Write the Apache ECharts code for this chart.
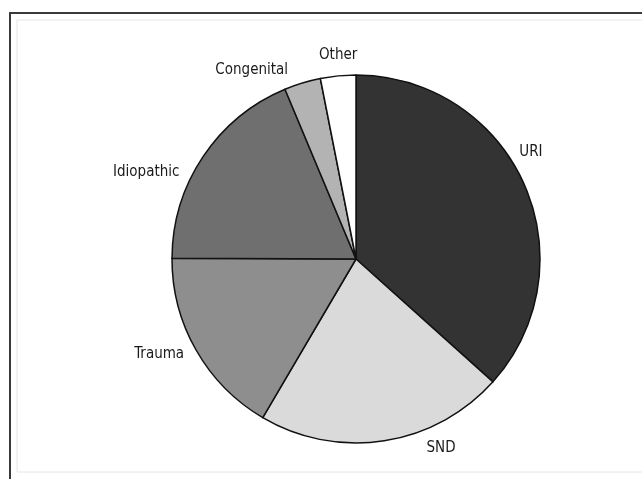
<!DOCTYPE html>
<html>
<head>
<meta charset="utf-8">
<script src="https://cdn.jsdelivr.net/npm/echarts@6/dist/echarts.min.js"></script>
<style>
html,body{margin:0;padding:0;background:#fff;}
#c{width:642px;height:479px;}
</style>
</head>
<body>
<div id="c"></div>
<script>
const categories = ['URI', 'SND', 'Trauma', 'Idiopathic', 'Congenital', 'Other'];
const values = [36.6, 21.8, 16.6, 18.6, 3.2, 3.1];
const sliceColors = ['#333333', '#dadada', '#8e8e8e', '#6f6f6f', '#b3b3b3', '#ffffff'];
// label nudges (style only), relative to ECharts' outside label placement
const labelNudge = [[-21, -29], [32, -1], [4, 0], [-8, 20], [-3, -5], [29, -13]];

const chart = echarts.init(document.getElementById('c'), null, {renderer: 'canvas'});
const font = '"Liberation Sans Narrow", "DejaVu Sans Condensed", sans-serif';
chart.setOption({
  backgroundColor: '#ffffff',
  animation: false,
  graphic: [
    {type: 'rect', shape: {x: 10, y: 13, width: 660, height: 500},
     style: {fill: 'none', stroke: '#3a3a3a', lineWidth: 2}, silent: true},
    {type: 'rect', shape: {x: 17, y: 20, width: 640, height: 452},
     style: {fill: 'none', stroke: '#e6e6e6', lineWidth: 1}, silent: true}
  ],
  series: [{
    type: 'pie',
    center: [356, 259],
    radius: 184,
    startAngle: 90,
    clockwise: true,
    avoidLabelOverlap: false,
    data: categories.map((c, i) => ({
      name: c, value: values[i],
      itemStyle: {color: sliceColors[i]}
    })),
    itemStyle: {borderColor: '#111', borderWidth: 1.5},
    label: {
      show: true, position: 'outside', formatter: '{b}',
      color: '#1a1a1a', fontSize: 15, fontFamily: font
    },
    labelLine: {show: false, length: 8, length2: 4},
    labelLayout: function (p) {
      const n = labelNudge[p.dataIndex];
      return {dx: n[0], dy: n[1]};
    },
    emphasis: {disabled: true}
  }]
});
</script>
</body>
</html>
